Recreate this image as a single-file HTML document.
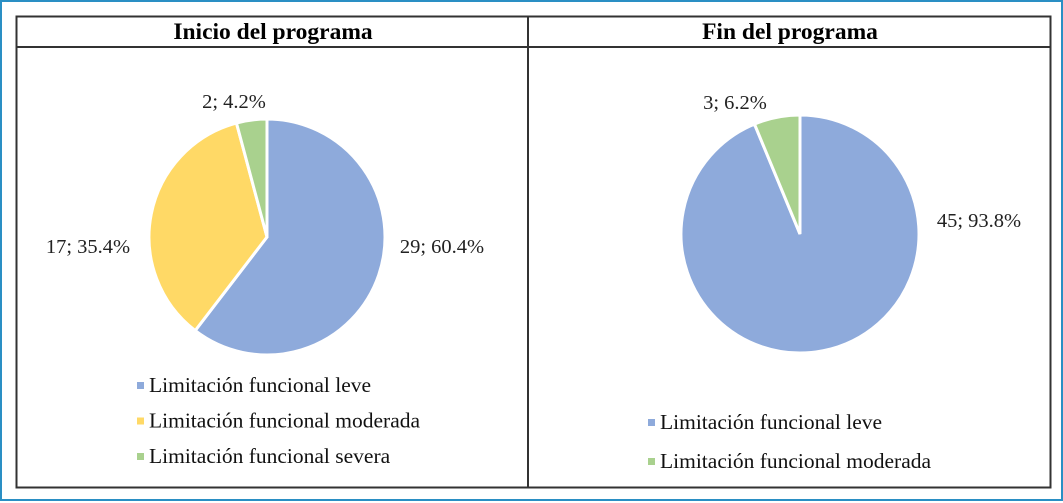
<!DOCTYPE html>
<html><head><meta charset="utf-8"><style>
html,body{margin:0;padding:0;background:#fff}
#wrap{position:relative;width:1063px;height:501px;box-sizing:border-box;border:2px solid #2a8fc4;background:#fff;font-family:"Liberation Serif",serif}
svg{position:absolute;left:0;top:0;font-family:"Liberation Serif",serif}
svg text{font-family:"Liberation Serif",serif}
</style></head><body>
<div id="wrap">
<svg id="s" width="1063" height="501" viewBox="0 0 1063 501">
<rect x="14.5" y="14.5" width="1034" height="471" fill="none" stroke="#333" stroke-width="2"/>
<line x1="14" y1="45" x2="1049" y2="45" stroke="#333" stroke-width="2"/>
<line x1="526" y1="14" x2="526" y2="486" stroke="#333" stroke-width="2"/>
<text x="271" y="37" text-anchor="middle" font-size="23.5" font-weight="bold">Inicio del programa</text>
<text x="788" y="37" text-anchor="middle" font-size="23.5" font-weight="bold">Fin del programa</text>
<g id="g1"></g><g id="g2"></g>
</svg>
</div>
<script>
const colors1=['#8eaadb','#ffd966','#a9d18e'];
const colors2=['#8eaadb','#a9d18e'];
const cats1=['Limitación funcional leve','Limitación funcional moderada','Limitación funcional severa'];
const vals1=[29,17,2];
const labels1=['29; 60.4%','17; 35.4%','2; 4.2%'];
const cats2=['Limitación funcional leve','Limitación funcional moderada'];
const vals2=[45,3];
const labels2=['45; 93.8%','3; 6.2%'];
const NS='http://www.w3.org/2000/svg';
function mk(t,a,p){const e=document.createElementNS(NS,t);for(const k in a)e.setAttribute(k,a[k]);p.appendChild(e);return e;}
function pie(g,cx,cy,r,vals,labels,cats,colors,legX,legY,legGap,labelPos){
  const tot=vals.reduce((a,b)=>a+b,0);let a0=0;
  vals.forEach((v,i)=>{
    const a1=a0+v/tot*2*Math.PI;
    const x0=cx+r*Math.sin(a0),y0=cy-r*Math.cos(a0),x1=cx+r*Math.sin(a1),y1=cy-r*Math.cos(a1);
    const large=(a1-a0)>Math.PI?1:0;
    const p=mk('path',{d:`M${cx},${cy}L${x0},${y0}A${r},${r} 0 ${large} 1 ${x1},${y1}Z`,fill:colors[i],stroke:'#fff','stroke-width':3},g);
    
    
    const t=mk('text',{x:labelPos[i][0],y:labelPos[i][1],'font-size':20.5,'text-anchor':'middle',fill:'#222'},g);
    t.textContent=labels[i];
    
    
    a0=a1;
  });
  cats.forEach((c,i)=>{
    const y=legY+i*legGap;
    const sq=mk('rect',{x:legX,y:y-10,width:7,height:7,fill:colors[i]},g);
    
    
    const t=mk('text',{x:legX+12,y:y,'font-size':21.5,fill:'#111'},g);
    t.textContent=c;
    
    
  });
}
pie(document.getElementById('g1'),265,235,118,vals1,labels1,cats1,colors1,135,390,35.5,[[440,251],[86,251],[232,106]]);
pie(document.getElementById('g2'),798,232,119,vals2,labels2,cats2,colors2,646,427,39,[[977,225],[733,107]]);
</script>
</body></html>
